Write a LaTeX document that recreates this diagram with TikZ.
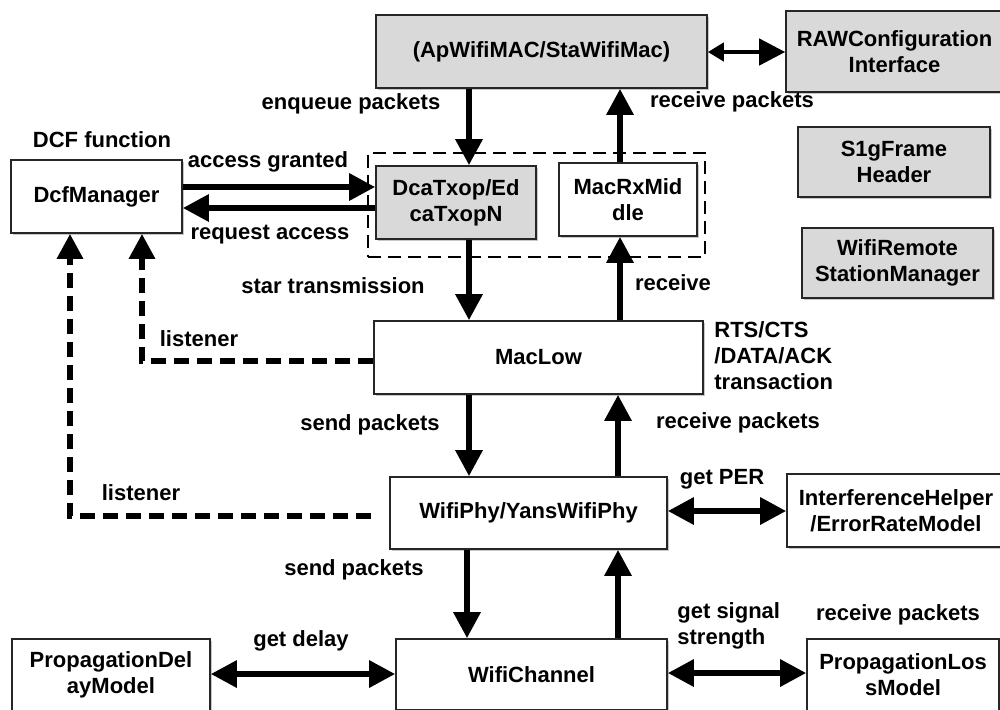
\documentclass[tikz,border=0pt]{standalone}
\usepackage{fontspec}
\setmainfont{Liberation Sans}
\usetikzlibrary{arrows.meta,calc,shadows}
\definecolor{boxgray}{RGB}{217,217,217}
\begin{document}
\begin{tikzpicture}[x=0.5pt,y=-0.5pt,
  font=\fontsize{11}{13}\selectfont\bfseries,
  box/.style={draw=black!85, line width=0.8pt, fill=white, align=center, inner sep=0pt,
    drop shadow={shadow xshift=0.9pt,shadow yshift=-0.9pt,fill=black,opacity=0.22}},
  gbox/.style={box, fill=boxgray},
  lbl/.style={inner sep=0pt, text height=7.9pt, text depth=0pt},
  mlbl/.style={inner sep=0pt, align=left, anchor=west},
  arr/.style={line width=3pt, -{Triangle[length=13pt,width=13pt]}},
  darr/.style={line width=3pt, {Triangle[length=13pt,width=13pt]}-{Triangle[length=13pt,width=13pt]}},
  listen/.style={line width=3pt, dash pattern=on 7.5pt off 4pt, -{Triangle[length=12.5pt,width=12.5pt]}},
  groupbox/.style={draw, line width=1.2pt, dash pattern=on 6.5pt off 3.5pt, inner sep=0pt}]
\useasboundingbox (0,0) rectangle (1000,709);
\clip (0,0) rectangle (1000,709);

% boxes
\node[gbox, minimum width=165.5pt, minimum height=36.5pt] (mac) at (541.5,51.5) {(ApWifiMAC/StaWifiMac)};
\node[gbox, minimum width=108.5pt, minimum height=40.5pt] (raw) at (894.5,51.5) {RAWConfiguration\\Interface};
\node[gbox, minimum width=96pt, minimum height=35pt] (s1g) at (894,162) {S1gFrame\\Header};
\node[gbox, minimum width=95.5pt, minimum height=35pt] (wrsm) at (897.5,263) {WifiRemote\\StationManager};
\node[box, minimum width=85.5pt, minimum height=36.5pt] (dcf) at (96.5,196.5) {DcfManager};
\node[gbox, minimum width=80pt, minimum height=36.5pt] (dca) at (456,202.5) {DcaTxop/Ed\\caTxopN};
\node[box, minimum width=69pt, minimum height=36.5pt] (rx) at (628,199.5) {MacRxMid\\dle};
\node[box, minimum width=164.5pt, minimum height=36.5pt] (maclow) at (538.5,357.5) {MacLow};
\node[box, minimum width=138.5pt, minimum height=36pt] (phy) at (528.5,513) {WifiPhy/YansWifiPhy};
\node[box, minimum width=135.5pt, minimum height=35.5pt] (chan) at (531.5,674.5) {WifiChannel};
\node[box, minimum width=99pt, minimum height=36pt] (pdm) at (111,675) {PropagationDel\\ayModel};
\node[box, minimum width=109pt, minimum height=36.5pt] (ierm) at (896,510.5) {InterferenceHelper\\/ErrorRateModel};
\node[box, minimum width=96pt, minimum height=36pt] (plm) at (903,675) {PropagationLos\\sModel};
\node[groupbox, minimum width=168.5pt, minimum height=52pt] (grp) at (536.5,205) {};

% reference coordinates
\coordinate (xa) at (469,0);
\coordinate (xb) at (620,0);
\coordinate (xc) at (618,0);
\coordinate (xd) at (467,0);
\coordinate (ya) at (0,187);
\coordinate (yb) at (0,208);
\coordinate (yc) at (0,52);
\coordinate (yd) at (0,511);
\coordinate (ye) at (0,674);
\coordinate (yf) at (0,673);

% vertical arrows
\draw[arr] (mac.south -| xa) -- (dca.north -| xa);
\draw[arr] (rx.north -| xb) -- (mac.south -| xb);
\draw[arr] (dca.south -| xa) -- (maclow.north -| xa);
\draw[arr] (maclow.north -| xb) -- (rx.south -| xb);
\draw[arr] (maclow.south -| xa) -- (phy.north -| xa);
\draw[arr] (phy.north -| xc) -- (maclow.south -| xc);
\draw[arr] (phy.south -| xd) -- (chan.north -| xd);
\draw[arr] (chan.north -| xc) -- (phy.south -| xc);

% horizontal arrows
\draw[arr] (dcf.east |- ya) -- (dca.west |- ya);
\draw[arr] (dca.west |- yb) -- (dcf.east |- yb);
\draw[line width=2.2pt, {Triangle[length=8pt,width=9pt]}-{Triangle[length=13pt,width=13pt]}] (mac.east |- yc) -- (raw.west |- yc);
\draw[darr] (phy.east |- yd) -- (ierm.west |- yd);
\draw[darr] (pdm.east |- ye) -- (chan.west |- ye);
\draw[darr] (chan.east |- yf) -- (plm.west |- yf);

% listener connectors
\coordinate (la) at ($(dcf.south)+(45.5,0)$);
\coordinate (lb) at ($(dcf.south)+(-26.5,0)$);
\draw[listen] ($(maclow.west)+(0,3.5)$) -| (la);
\draw[listen] ($(phy.west)+(-18,3)$) -| (lb);

% labels
\node[lbl] (l1) at (351,102) {enqueue packets};
\node[lbl] (l2) at (102,140) {DCF function};
\node[lbl] (l3) at (268,160) {access granted};
\node[lbl] (l4) at (270,232) {request access};
\node[lbl] (l5) at (333,286) {star transmission};
\node[lbl] (l6) at (732,100) {receive packets};
\node[lbl] (l7) at (673,283) {receive};
\node[lbl] (l8) at (199,339) {listener};
\node[lbl] (l9) at (141,493) {listener};
\node[lbl] (l10) at (370,423) {send packets};
\node[lbl] (l11) at (354,568) {send packets};
\node[lbl] (l12) at (301,639) {get delay};
\node[mlbl] (l13) at (714,355.5) {RTS/CTS\\/DATA/ACK\\transaction};
\node[lbl] (l14) at (738,421) {receive packets};
\node[lbl] (l15) at (722,477) {get PER};
\node[mlbl] (l16) at (677,626) {get signal\\strength};
\node[lbl] (l17) at (898,613) {receive packets};
\end{tikzpicture}
\end{document}
